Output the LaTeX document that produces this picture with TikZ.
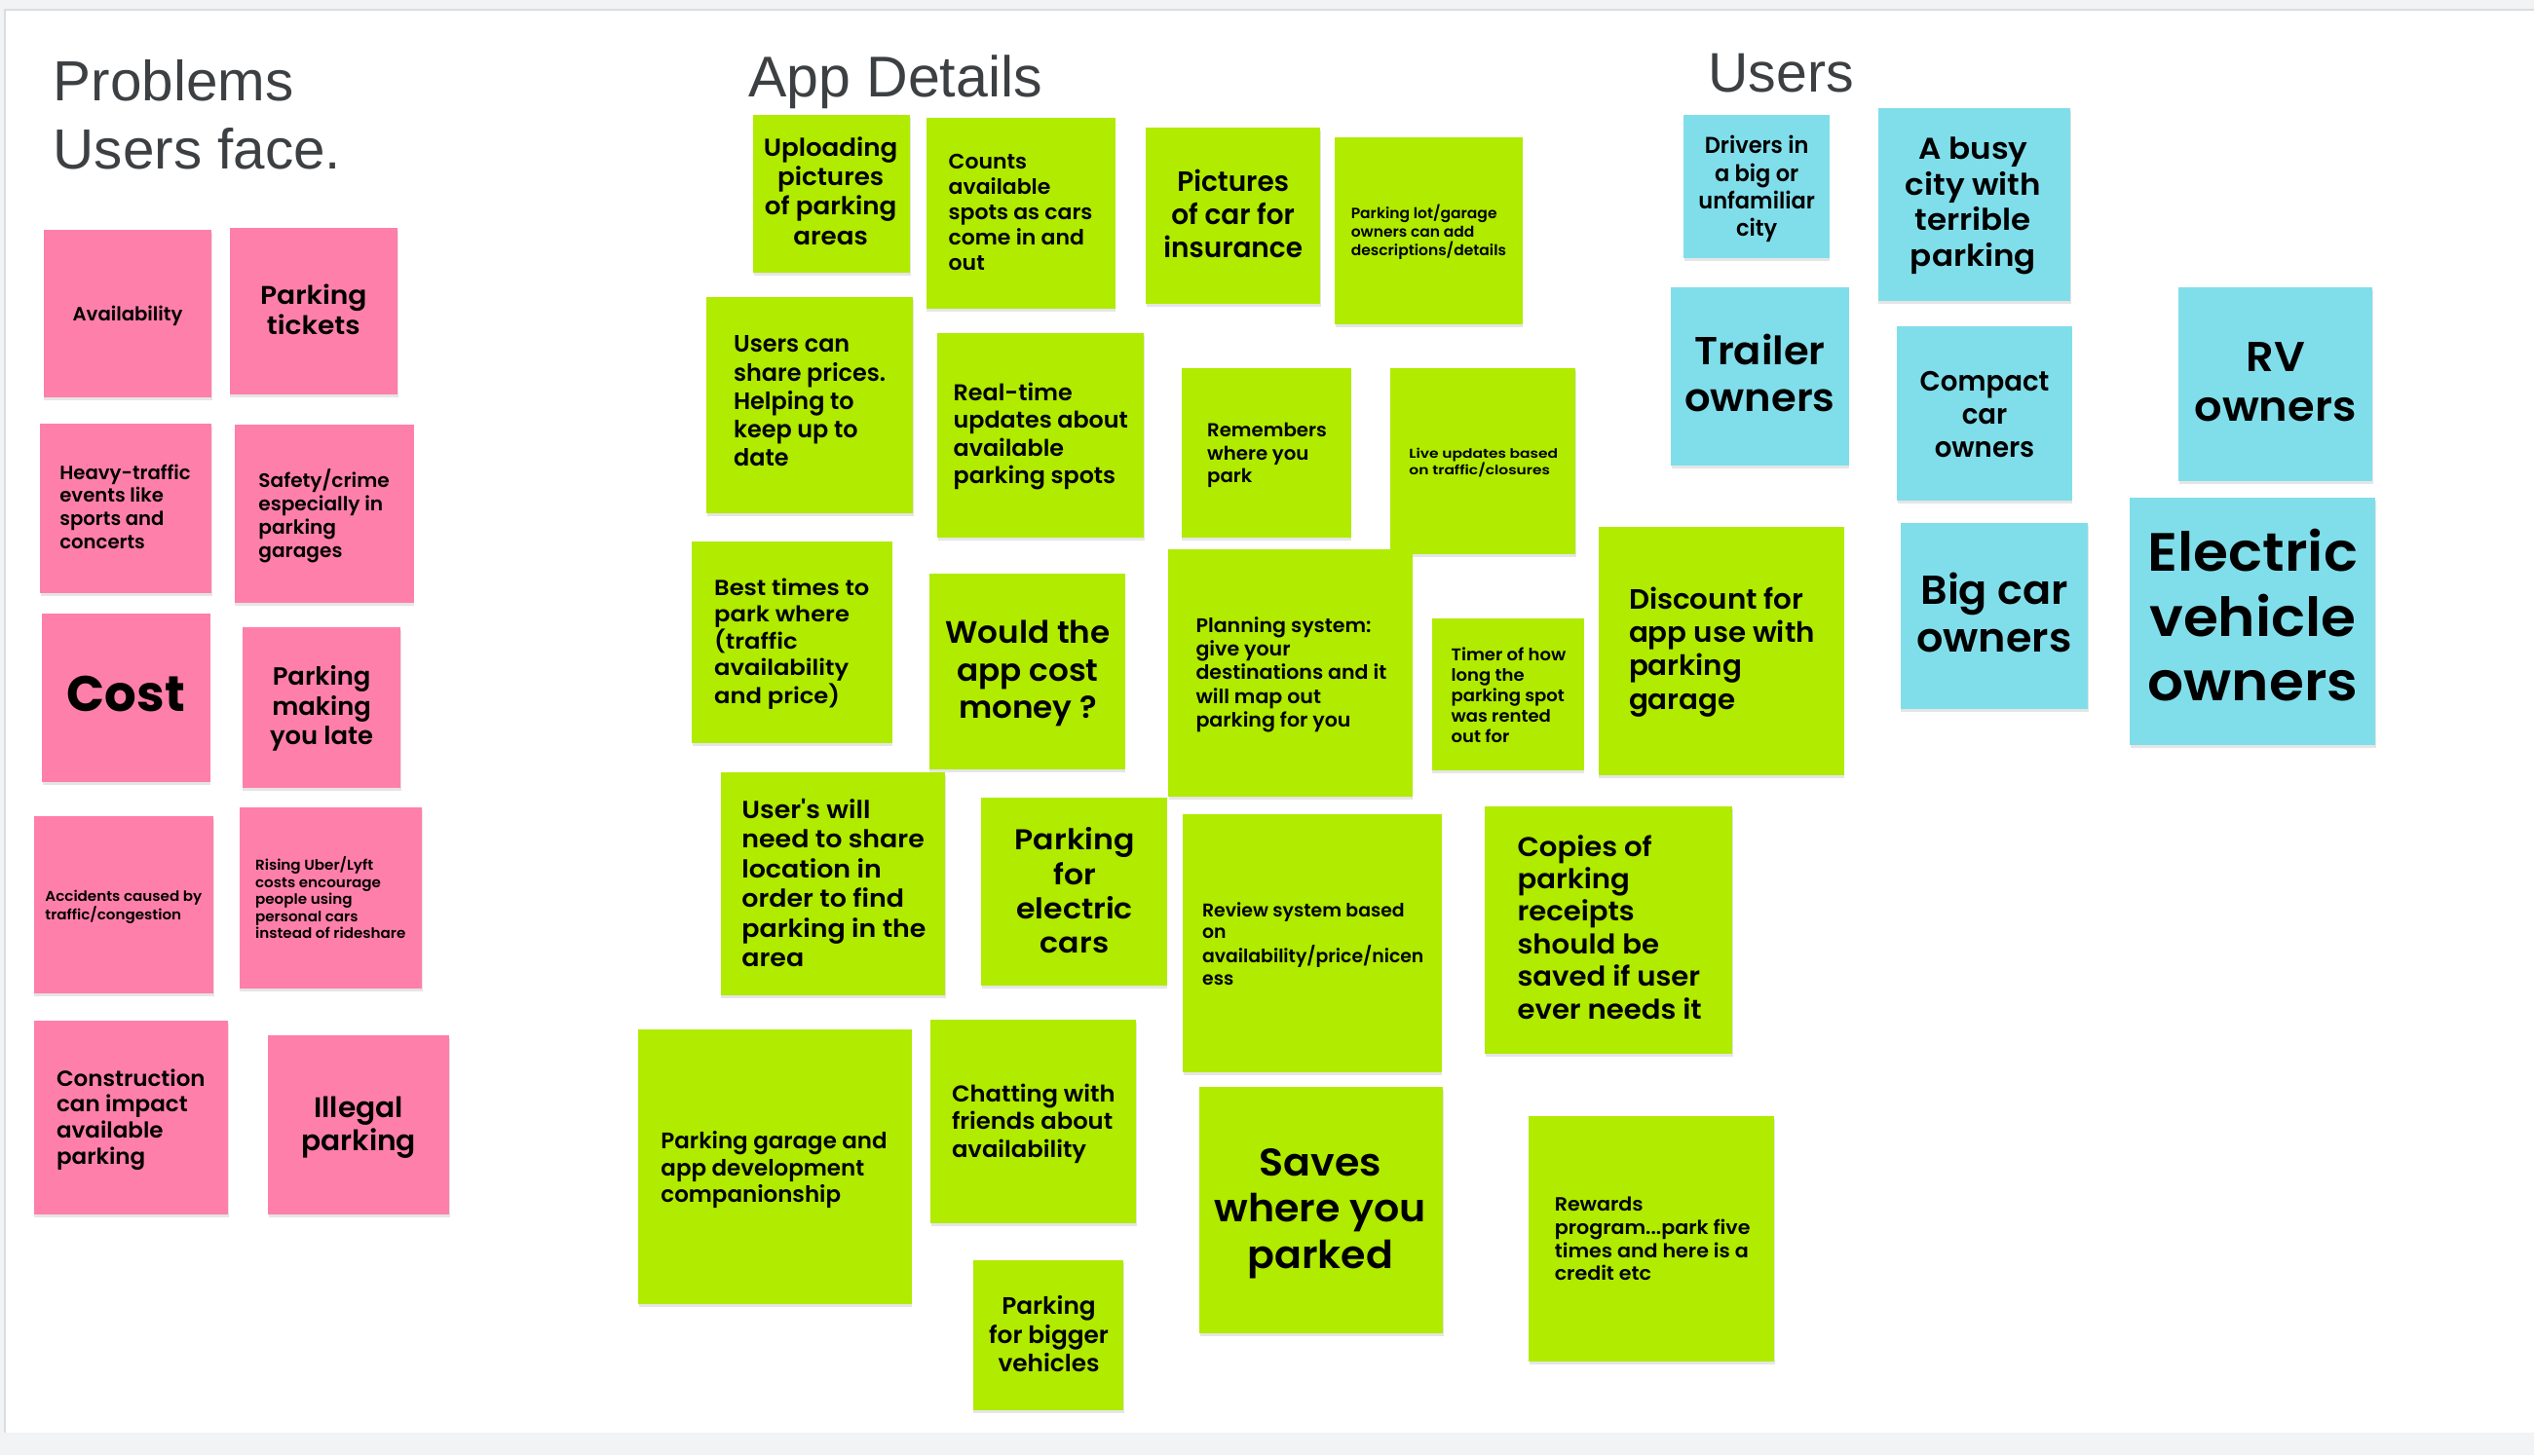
\documentclass[tikz,border=0pt]{standalone}
\usepackage{fontspec}
\usepackage{graphicx}
\usetikzlibrary{shadows}
\newfontfamily\notefont{Poppins}[UprightFont={* SemiBold}, BoldFont={* Bold}]
\newfontfamily\titlefont{Liberation Sans}
\definecolor{pinknote}{HTML}{FF7FAB}
\definecolor{greennote}{HTML}{B0EB00}
\definecolor{cyannote}{HTML}{80DEEA}
\definecolor{titlegray}{HTML}{3C4043}
\definecolor{boardedge}{HTML}{F1F3F4}
\definecolor{boardline}{HTML}{DADCE0}

\tikzset{
  sticky/.style={draw=none, inner sep=0pt, outer sep=0pt,
    drop shadow={shadow xshift=0.4pt, shadow yshift=-1.8pt, opacity=0.2}},
  pinkbox/.style={sticky, fill=pinknote},
  greenbox/.style={sticky, fill=greennote},
  cyanbox/.style={sticky, fill=cyannote},
  notetext/.style={inner sep=0pt, outer sep=0pt, text=black, font=\notefont, yshift=-1.8pt},
  titletext/.style={inner sep=0pt, outer sep=0pt, text=titlegray, font=\titlefont},
}

% sticky note rectangle: name, style, x1, y1, x2, y2
\newcommand\notebox[6]{%
  \node[#2, minimum width={(#5-#3)*1pt}, minimum height={(#6-#4)*1pt}]
    (#1) at ({(#3+#5)/2},{(#4+#6)/2}) {};}
% note text: name, anchor, x, y, width, height, alignment, lines
\newcommand\notetxt[8]{%
  \node[notetext, anchor=#2] (#1) at (#3,#4)
    {\resizebox*{#5pt}{#6}{\begin{tabular}{@{}#7@{}}#8\end{tabular}}};}

\begin{document}
\begin{tikzpicture}[x=1pt, y=-1pt]
  \useasboundingbox (0,0) rectangle (1568,900.7);
  % board
  \fill[boardedge] (0,0) rectangle (1568,900.7);
  \fill[white] (3,6) rectangle (1568,887);
  \draw[boardline, line width=1.2pt] (3,887) -- (3,6) -- (1568,6);

  % headings
  \node[titletext, anchor=west] (hprob) at (33,75)
    {\resizebox*{178pt}{84pt}{\begin{tabular}{@{}l@{}}Problems\\Users face.\end{tabular}}};
  \node[titletext, anchor=west] (happ) at (463,51)
    {\resizebox{182pt}{!}{App Details}};
  \node[titletext, anchor=west] (husers) at (1057,45)
    {\resizebox{90pt}{!}{Users}};

  % ---- problems (pink) ----
  \notebox{p1}{pinkbox}{27}{142}{131}{246}
  \notetxt{p1t}{center}{79}{194}{68}{!}{c}{Availability}
  \notebox{p2}{pinkbox}{142}{141}{246}{244}
  \notetxt{p2t}{center}{194}{192}{66}{38pt}{c}{Parking\\tickets}
  \notebox{p3}{pinkbox}{25}{262}{131}{367}
  \notetxt{p3t}{west}{37}{313.5}{81}{57pt}{l}{Heavy-traffic\\events like\\sports and\\concerts}
  \notebox{p4}{pinkbox}{145}{263}{256}{373}
  \notetxt{p4t}{west}{160}{318}{81}{59pt}{l}{Safety/crime\\especially in\\parking\\garages}
  \notebox{p5}{pinkbox}{26}{380}{130}{484}
  \notetxt{p5t}{center}{78}{431}{73}{!}{c}{\bfseries Cost}
  \notebox{p6}{pinkbox}{150}{388}{248}{488}
  \notetxt{p6t}{center}{199}{437}{64}{55.5pt}{c}{Parking\\making\\you late}
  \notebox{p7}{pinkbox}{21}{505}{132}{615}
  \notetxt{p7t}{west}{28}{559.5}{97}{22pt}{l}{Accidents caused by\\traffic/congestion}
  \notebox{p8}{pinkbox}{148}{500}{261}{612}
  \notetxt{p8t}{west}{158}{555.5}{93}{54pt}{l}{Rising Uber/Lyft\\costs encourage\\people using\\personal cars\\instead of rideshare}
  \notebox{p9}{pinkbox}{21}{632}{141}{752}
  \notetxt{p9t}{west}{35}{691.5}{92}{65pt}{l}{Construction\\can impact\\available\\parking}
  \notebox{p10}{pinkbox}{166}{641}{278}{752}
  \notetxt{p10t}{center}{222}{696}{71}{42pt}{c}{Illegal\\parking}

  % ---- app details (green) ----
  \notebox{g1}{greenbox}{466}{71}{563}{169}
  \notetxt{g1t}{center}{514}{118.5}{83}{73pt}{c}{Uploading\\pictures\\of parking\\areas}
  \notebox{g2}{greenbox}{573}{73}{690}{191}
  \notetxt{g2t}{west}{587}{131}{89}{78pt}{l}{Counts\\available\\spots as cars\\come in and\\out}
  \notebox{g3}{greenbox}{709}{79}{817}{188}
  \notetxt{g3t}{center}{763}{133}{86}{62pt}{c}{Pictures\\of car for\\insurance}
  \notebox{g4}{greenbox}{826}{85}{942}{201}
  \notetxt{g4t}{west}{836}{142.5}{96}{35pt}{l}{Parking lot/garage\\owners can add\\descriptions/details}
  \notebox{g5}{greenbox}{437}{184}{565}{318}
  \notetxt{g5t}{west}{454}{248}{94}{88pt}{l}{Users can\\share prices.\\Helping to\\keep up to\\date}
  \notebox{g6}{greenbox}{580}{206}{708}{333}
  \notetxt{g6t}{west}{590}{268.5}{108}{68pt}{l}{Real-time\\updates about\\available\\parking spots}
  \notebox{g7}{greenbox}{731}{228}{836}{333}
  \notetxt{g7t}{west}{747}{280}{74}{42pt}{l}{Remembers\\where you\\park}
  \notebox{g8}{greenbox}{860}{228}{975}{343}
  \notetxt{g8t}{west}{872}{285}{92}{20pt}{l}{Live updates based\\on traffic/closures}
  \notebox{g9}{greenbox}{428}{335}{552}{460}
  \notetxt{g9t}{west}{442}{397}{96}{83pt}{l}{Best times to\\park where\\(traffic\\availability\\and price)}
  \notebox{g10}{greenbox}{575}{355}{696}{476}
  \notetxt{g10t}{center}{636}{415}{102}{69pt}{c}{Would the\\app cost\\money ?}
  \notebox{g11}{greenbox}{723}{340}{874}{493}
  \notetxt{g11t}{west}{740}{416}{118}{73pt}{l}{Planning system:\\give your\\destinations and it\\will map out\\parking for you}
  \notebox{g12}{greenbox}{886}{383}{980}{477}
  \notetxt{g12t}{west}{898}{430}{71}{63pt}{l}{Timer of how\\long the\\parking spot\\was rented\\out for}
  \notebox{g13}{greenbox}{989}{326}{1141}{480}
  \notetxt{g13t}{west}{1008}{402}{115}{83pt}{l}{Discount for\\app use with\\parking\\garage}
  \notebox{g14}{greenbox}{446}{478}{585}{616}
  \notetxt{g14t}{west}{459}{547}{114}{110pt}{l}{User's will\\need to share\\location in\\order to find\\parking in the\\area}
  \notebox{g15}{greenbox}{607}{494}{722}{610}
  \notetxt{g15t}{center}{665}{552}{74}{85pt}{c}{Parking\\for\\electric\\cars}
  \notebox{g16}{greenbox}{732}{504}{892}{664}
  \notetxt{g16t}{west}{744}{584}{137}{56pt}{l}{Review system based\\on\\availability/price/nicen\\ess}
  \notebox{g17}{greenbox}{919}{499}{1072}{652}
  \notetxt{g17t}{west}{939}{574.5}{114}{121pt}{l}{Copies of\\parking\\receipts\\should be\\saved if user\\ever needs it}
  \notebox{g18}{greenbox}{395}{637}{564}{807}
  \notetxt{g18t}{west}{409}{722.5}{140}{50pt}{l}{Parking garage and\\app development\\companionship}
  \notebox{g19}{greenbox}{576}{631}{703}{757}
  \notetxt{g19t}{west}{589}{694}{101}{51pt}{l}{Chatting with\\friends about\\availability}
  \notebox{g20}{greenbox}{742}{673}{893}{825}
  \notetxt{g20t}{center}{817}{749}{131}{86pt}{c}{Saves\\where you\\parked}
  \notebox{g21}{greenbox}{602}{780}{695}{873}
  \notetxt{g21t}{center}{649}{826}{74}{53pt}{c}{Parking\\for bigger\\vehicles}
  \notebox{g22}{greenbox}{946}{691}{1098}{843}
  \notetxt{g22t}{west}{962}{766.5}{121}{57pt}{l}{Rewards\\program...park five\\times and here is a\\credit etc}

  % ---- users (cyan) ----
  \notebox{c1}{cyanbox}{1042}{71}{1132}{160}
  \notetxt{c1t}{center}{1087}{115.5}{72}{68pt}{c}{Drivers in\\a big or\\unfamiliar\\city}
  \notebox{c2}{cyanbox}{1162}{67}{1281}{186}
  \notetxt{c2t}{center}{1221}{125.5}{84}{89pt}{c}{A busy\\city with\\terrible\\parking}
  \notebox{c3}{cyanbox}{1034}{178}{1144}{288}
  \notetxt{c3t}{center}{1089}{232.5}{93}{58pt}{c}{Trailer\\owners}
  \notebox{c4}{cyanbox}{1174}{202}{1282}{310}
  \notetxt{c4t}{center}{1228}{256.5}{80}{62pt}{c}{Compact\\car\\owners}
  \notebox{c5}{cyanbox}{1348}{178}{1468}{298}
  \notetxt{c5t}{center}{1408}{237.5}{100}{62pt}{c}{RV\\owners}
  \notebox{c6}{cyanbox}{1176}{324}{1292}{439}
  \notetxt{c6t}{center}{1234}{381}{96}{60pt}{c}{Big car\\owners}
  \notebox{c7}{cyanbox}{1318}{308}{1470}{461}
  \notetxt{c7t}{center}{1394}{384}{130}{120pt}{c}{Electric\\vehicle\\owners}
\end{tikzpicture}
\end{document}
